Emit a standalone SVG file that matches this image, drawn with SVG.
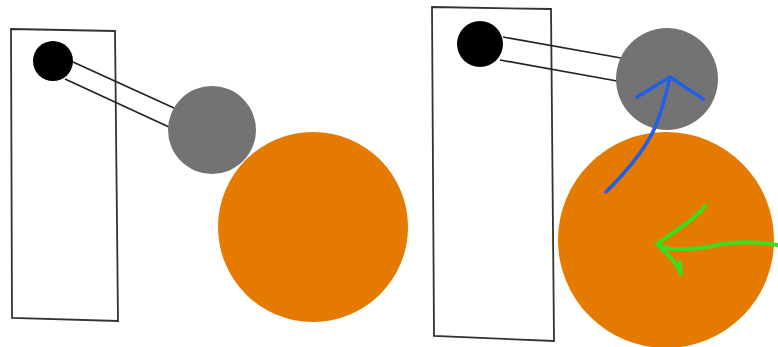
<svg xmlns="http://www.w3.org/2000/svg" width="778" height="347" viewBox="0 0 778 347">
<style>
.frame{fill:#fff;stroke:#333;stroke-width:1.8}
.rod{stroke:#222;stroke-width:1.7;fill:none}
.pivot{fill:#000}
.bob{fill:#737373}
.ball{fill:#E47A00}
.blue{stroke:#1F5FEA;stroke-width:3.5;fill:none;stroke-linecap:round;stroke-linejoin:round}
.green{stroke:#3EDC1E;stroke-width:4;fill:none;stroke-linecap:round;stroke-linejoin:round}
</style>
<g id="left-panel">
  <g id="left-frame"><polygon class="frame" points="11,29 115,31 118,321 12,318"/></g>
  <g id="left-connectors">
    <line class="rod" x1="73" y1="62" x2="174" y2="108"/>
    <line class="rod" x1="65" y1="79" x2="169" y2="127"/>
  </g>
  <g id="left-pivot"><circle class="pivot" cx="53" cy="61" r="20"/></g>
  <g id="left-bob"><circle class="bob" cx="212" cy="130" r="44"/></g>
  <g id="left-ball"><circle class="ball" cx="313" cy="227" r="95"/></g>
</g>
<g id="right-panel">
  <g id="right-frame"><polygon class="frame" points="432,7 551,9 554,341 434,336"/></g>
  <g id="right-connectors">
    <line class="rod" x1="503" y1="37" x2="621" y2="58"/>
    <line class="rod" x1="500" y1="60" x2="617" y2="81"/>
  </g>
  <g id="right-pivot"><circle class="pivot" cx="480" cy="44" r="23"/></g>
  <g id="right-bob"><circle class="bob" cx="667" cy="79" r="51"/></g>
  <g id="right-ball"><circle class="ball" cx="666" cy="240" r="108"/></g>
  <g id="blue-arrow">
    <path class="blue" d="M606,192 C630,168 648,145 656,125 C664,105 667,90 670,77"/>
    <path class="blue" d="M637,97 L670,77 L703,99"/>
  </g>
  <g id="green-arrow">
    <path class="green" d="M778,245 C755,242 740,241 722,244 C705,248 690,250 672,249 C665,248 660,246 657,244"/>
    <path class="green" d="M705,206 C698,216 688,222 680,228 C670,235 662,240 657,244 C663,250 670,256 675,263 C678,268 680,271 681,274 L680,262"/>
  </g>
</g>
</svg>
